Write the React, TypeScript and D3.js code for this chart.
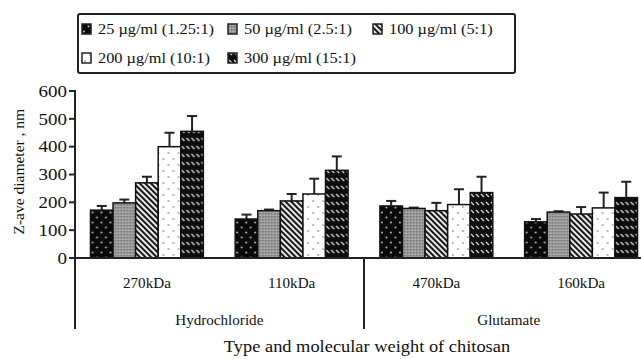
import * as d3 from 'd3';
import React from 'react';

// data
const groups = ['270kDa', '110kDa', '470kDa', '160kDa'];
const salts = ['Hydrochloride', 'Glutamate'];
const series = ['25 µg/ml (1.25:1)', '50 µg/ml (2.5:1)', '100 µg/ml (5:1)', '200 µg/ml (10:1)', '300 µg/ml (15:1)'];
const means = [
  [172, 198, 270, 400, 455],
  [140, 170, 205, 230, 315],
  [187, 178, 170, 192, 235],
  [130, 165, 158, 180, 217],
];
const errs = [
  [15, 12, 22, 50, 55],
  [16, 4, 25, 55, 50],
  [18, 3, 28, 55, 57],
  [10, 3, 25, 55, 57],
];
const yTicks = [0, 100, 200, 300, 400, 500, 600];

const W = 641;
const H = 359;
const font = "'Liberation Serif', 'Times New Roman', Times, serif";
const ink = '#222';
const patternIds = ['p-dots', 'p-grey', 'p-hatch', 'p-light', 'p-wave'];

// the source figure is a little stretched sideways, so text gets a horizontal scale
function T({ x, y, size, sx = 1.15, anchor = 'start', dy, children }: any) {
  return (
    <text transform={`translate(${x},${y}) scale(${sx},1)`} dy={dy} textAnchor={anchor} fontSize={size} fill="#111">
      {children}
    </text>
  );
}

function Patterns() {
  return (
    <defs>
      <pattern id="p-dots" width="9" height="10" patternUnits="userSpaceOnUse">
        <rect width="9" height="10" fill="#0a0a0a" />
        <circle cx="2" cy="2.5" r="1" fill="#bbb" />
        <circle cx="6.5" cy="7.5" r="1" fill="#bbb" />
      </pattern>
      <pattern id="p-grey" width="3" height="3" patternUnits="userSpaceOnUse">
        <rect width="3" height="3" fill="#9a9a9a" />
        <rect width="1.5" height="1.5" fill="#777" />
        <rect x="1.5" y="1.5" width="1.5" height="1.5" fill="#b0b0b0" />
      </pattern>
      <pattern id="p-hatch" width="4" height="4" patternUnits="userSpaceOnUse" patternTransform="rotate(-45)">
        <rect width="4" height="4" fill="#fff" />
        <rect width="2.2" height="4" fill="#1a1a1a" />
      </pattern>
      <pattern id="p-light" width="10" height="12" patternUnits="userSpaceOnUse">
        <rect width="10" height="12" fill="#fff" />
        <circle cx="3" cy="3" r="1.1" fill="#aaa" />
        <circle cx="8" cy="9" r="1.1" fill="#aaa" />
      </pattern>
      <pattern id="p-wave" width="5" height="8" patternUnits="userSpaceOnUse">
        <rect width="5" height="8" fill="#0d0d0d" />
        <path d="M1,2 L4,5" stroke="#ddd" strokeWidth="1.2" />
      </pattern>
    </defs>
  );
}

export default function App() {
  const x0 = d3.scaleBand<string>().domain(groups).range([76, 652]).paddingInner(0.22).paddingOuter(0.1);
  const x1 = d3.scaleBand<string>().domain(series).range([0, x0.bandwidth()]);
  const y = d3.scaleLinear().domain([0, 600]).range([258, 91]);
  const axisX = 75;
  const divX = ((x0(groups[1]) as number) + x0.bandwidth() + (x0(groups[2]) as number)) / 2;

  const legendPos = [
    [82, 29], [228, 29], [373, 29],
    [82, 58], [228, 58],
  ];

  return (
    <svg width={W} height={H} style={{ position: 'absolute', left: 0, top: 0, background: '#fff', fontFamily: font }}>
      <Patterns />
      {/* legend */}
      <rect x={78} y={14} width={437} height={59} rx={2} fill="#fff" stroke={ink} strokeWidth={2} />
      {series.map((s, i) => (
        <g key={s} transform={`translate(${legendPos[i][0]},${legendPos[i][1]})`}>
          <rect x={0} y={-5} width={9} height={10} fill={`url(#${patternIds[i]})`} stroke={ink} strokeWidth={1.5} />
          <T x={16} y={5} size={15} sx={1.09}>{s}</T>
        </g>
      ))}

      {/* bars */}
      {groups.map((g, gi) => (
        <g key={g} transform={`translate(${x0(g)},0)`}>
          {series.map((s, si) => {
            const bx = x1(s) as number;
            const bw = x1.bandwidth();
            const top = y(means[gi][si]);
            const et = y(means[gi][si] + errs[gi][si]);
            const cx = bx + bw / 2;
            return (
              <g key={s}>
                <line x1={cx} x2={cx} y1={top} y2={et} stroke={ink} strokeWidth={2} />
                <line x1={cx - 5} x2={cx + 5} y1={et} y2={et} stroke={ink} strokeWidth={2} />
                <rect x={bx} y={top} width={bw} height={y(0) - top} fill={`url(#${patternIds[si]})`} stroke="#111" strokeWidth={1.5} />
              </g>
            );
          })}
        </g>
      ))}

      {/* y axis */}
      <line x1={axisX} x2={axisX} y1={y(600) - 1} y2={329} stroke={ink} strokeWidth={2} />
      <line x1={axisX - 6} x2={W} y1={y(0)} y2={y(0)} stroke={ink} strokeWidth={2} />
      {yTicks.map(t => (
        <g key={t}>
          <line x1={axisX - 6} x2={axisX} y1={y(t)} y2={y(t)} stroke={ink} strokeWidth={2} />
          <T x={axisX - 8} y={y(t)} dy="0.35em" anchor="end" size={16.5}>{t}</T>
        </g>
      ))}
      <text transform={`translate(24,${y(310)}) rotate(-90)`} textAnchor="middle" fontSize={15.5} fill="#111">Z-ave diameter , nm</text>

      {/* category labels */}
      {groups.map(g => (
        <T key={g} x={(x0(g) as number) + x0.bandwidth() / 2} y={288} anchor="middle" size={14} sx={1.08}>{g}</T>
      ))}
      <line x1={divX} x2={divX} y1={y(0)} y2={329} stroke={ink} strokeWidth={2} />
      {salts.map((s, i) => {
        const a = x0(groups[i * 2]) as number;
        const b = (x0(groups[i * 2 + 1]) as number) + x0.bandwidth();
        return (
          <T key={s} x={(a + b) / 2} y={325} anchor="middle" size={14} sx={1.08}>{s}</T>
        );
      })}
      <T x={367} y={352} anchor="middle" size={16}>Type and molecular weight of chitosan</T>
    </svg>
  );
}
